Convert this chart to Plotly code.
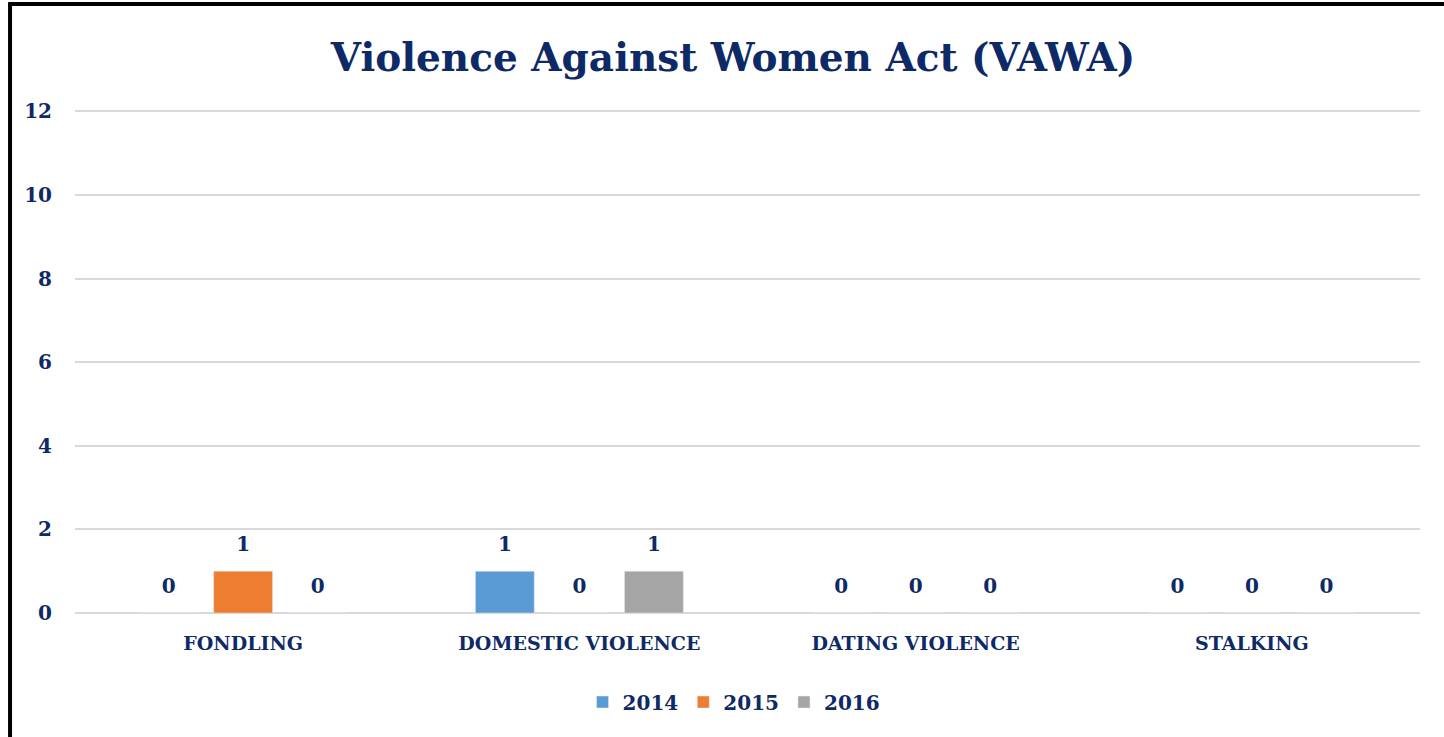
import plotly.graph_objects as go

categories = ["FONDLING", "DOMESTIC VIOLENCE", "DATING VIOLENCE", "STALKING"]
years = ["2014", "2015", "2016"]
values_2014 = [0, 1, 0, 0]
values_2015 = [1, 0, 0, 0]
values_2016 = [0, 1, 0, 0]
colors = ["#5B9BD5", "#ED7D31", "#A5A5A5"]
y_ticks = [0, 2, 4, 6, 8, 10, 12]

NAVY = "#0E2A66"
FONT = "DejaVu Serif"

fig = go.Figure()
series = [values_2014, values_2015, values_2016]
for i, (name, vals, col) in enumerate(zip(years, series, colors)):
    fig.add_trace(go.Bar(
        x=categories, y=vals, name=name, marker_color=col,
        offsetgroup=str(i), alignmentgroup="a",
    ))
for i, (name, vals) in enumerate(zip(years, series)):
    fig.add_trace(go.Scatter(
        x=categories, y=vals, mode="markers+text", showlegend=False,
        marker=dict(size=22, opacity=0), hoverinfo="skip",
        text=[str(v) for v in vals], textposition="top center",
        textfont=dict(family=FONT, size=20, color=NAVY, weight="bold"),
        offsetgroup=str(i), alignmentgroup="a", cliponaxis=False,
    ))

W, H = 1444, 737
fig.update_layout(
    width=W, height=H,
    margin=dict(l=75, r=24, t=110, b=124),
    paper_bgcolor="white", plot_bgcolor="white",
    barmode="group", bargap=0.335, bargroupgap=0.21,
    scattermode="group", scattergap=0.335,
    title=dict(text="Violence Against Women Act (VAWA)",
               font=dict(family=FONT, size=39, color=NAVY, weight="bold"),
               x=0.5076, xanchor="center", y=1 - 57 / H, yanchor="middle"),
    showlegend=True,
    legend=dict(orientation="h", x=0.49, xanchor="center", y=-0.177, yanchor="middle",
                font=dict(family=FONT, size=20, color=NAVY, weight="bold"),
                traceorder="normal"),
    yaxis=dict(range=[0, 12.03], tickvals=y_ticks, showgrid=True, gridcolor="#D9D9D9", gridwidth=2,
               zeroline=True, zerolinecolor="#D9D9D9", zerolinewidth=2, showline=False,
               tickfont=dict(family=FONT, size=20, color=NAVY, weight="bold"), ticklabelstandoff=22),
    xaxis=dict(showgrid=False, showline=False,
               tickfont=dict(family=FONT, size=19, color=NAVY, weight="bold"), ticklabelstandoff=17),
)

fig.add_shape(type="line", xref="paper", yref="paper", x0=-0.0483, x1=-0.0483, y0=1.212, y1=-0.4,
              line=dict(color="black", width=4))
fig.add_shape(type="line", xref="paper", yref="paper", x0=-0.0497, x1=1.05, y0=1.2107, y1=1.2107,
              line=dict(color="black", width=4))

fig.write_html("out.html", config={"displayModeBar": False},
               post_script="document.body.style.margin='0';")
